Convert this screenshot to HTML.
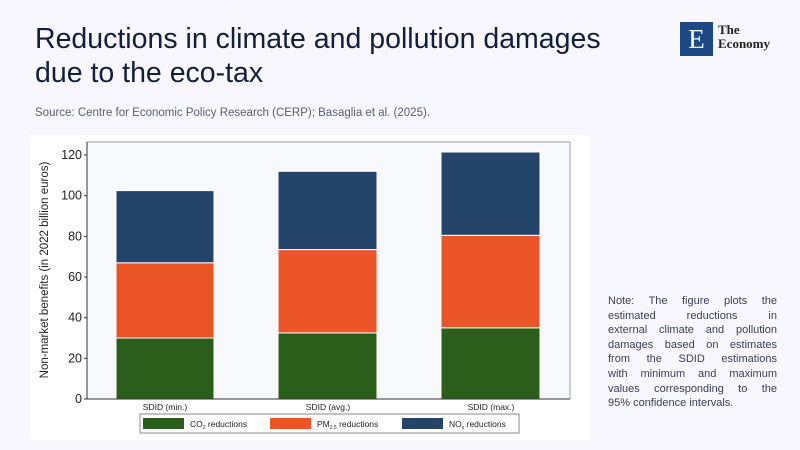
<!DOCTYPE html>
<html><head><meta charset="utf-8"><style>
body{margin:0;width:800px;height:450px;background:#f7f7fd;font-family:"Liberation Sans",sans-serif;overflow:hidden;position:relative}
.t{position:absolute;left:35px;top:22px;font-size:28.5px;line-height:34px;color:#141d3c;font-family:"Liberation Sans",sans-serif}
.s{position:absolute;left:35px;top:107px;font-size:11.5px;color:#5a5f73}
.n{position:absolute;left:608px;top:294px;width:169px;font-size:11px;line-height:14.6px;color:#3a3f55}
.n div{text-align:justify;text-align-last:justify;white-space:nowrap}
.n div:last-child{text-align-last:left}
</style></head><body>
<div class="t">Reductions in climate and pollution damages<br>due to the eco-tax</div>
<div class="s">Source: Centre for Economic Policy Research (CERP); Basaglia et al. (2025).</div>
<div style="position:absolute;left:680px;top:22px;width:33px;height:34px;background:#1d4a86;color:#fff;font-family:'Liberation Serif',serif;font-size:27px;text-align:center;line-height:34px">E</div>
<div style="position:absolute;left:718px;top:23px;font-family:'Liberation Serif',serif;font-size:13px;line-height:14px;color:#222;font-weight:bold">The<br>Economy</div>
<svg style="position:absolute;left:0;top:0" width="800" height="450">
<rect x="30" y="135" width="560" height="305" fill="#ffffff"/>
<rect x="87" y="142" width="483" height="257" fill="#f8f9fd" stroke="#9aa0a8" stroke-width="1"/>
<g stroke="#fff" stroke-width="1">
<rect x="116" y="338" width="98" height="61" fill="#2b5e1a"/>
<rect x="116" y="262.8" width="98" height="75.2" fill="#ea5426"/>
<rect x="116" y="190.6" width="98" height="72.2" fill="#244469"/>
<rect x="278" y="332.9" width="99" height="66.1" fill="#2b5e1a"/>
<rect x="278" y="249.6" width="99" height="83.3" fill="#ea5426"/>
<rect x="278" y="171.3" width="99" height="78.3" fill="#244469"/>
<rect x="441" y="327.8" width="99" height="71.2" fill="#2b5e1a"/>
<rect x="441" y="235.3" width="99" height="92.5" fill="#ea5426"/>
<rect x="441" y="152" width="99" height="83.3" fill="#244469"/>
</g>
<line x1="87" y1="399" x2="570" y2="399" stroke="#333"/>
<line x1="87" y1="142" x2="87" y2="399" stroke="#333"/>
<g font-size="12.5" fill="#222" text-anchor="end">
<text x="82" y="403">0</text><text x="82" y="362.3">20</text><text x="82" y="321.7">40</text><text x="82" y="281">60</text><text x="82" y="240.4">80</text><text x="82" y="199.7">100</text><text x="82" y="159">120</text>
</g>
<g stroke="#333"><line x1="84" y1="399" x2="87" y2="399"/><line x1="84" y1="358.3" x2="87" y2="358.3"/><line x1="84" y1="317.7" x2="87" y2="317.7"/><line x1="84" y1="277" x2="87" y2="277"/><line x1="84" y1="236.4" x2="87" y2="236.4"/><line x1="84" y1="195.7" x2="87" y2="195.7"/><line x1="84" y1="155" x2="87" y2="155"/></g>
<text transform="translate(48,270) rotate(-90)" font-size="11.5" fill="#222" text-anchor="middle">Non-market benefits (in 2022 billion euros)</text>
<g font-size="8.5" fill="#222" text-anchor="middle">
<text x="165" y="410">SDID (min.)</text><text x="328" y="410">SDID (avg.)</text><text x="491" y="410">SDID (max.)</text>
</g>
<rect x="140" y="414" width="379" height="19" fill="#fff" stroke="#888"/>
<rect x="143" y="418" width="41" height="11" fill="#2b5e1a"/>
<rect x="270" y="418" width="41" height="11" fill="#ea5426"/>
<rect x="402" y="418" width="41" height="11" fill="#244469"/>
<g font-size="8.5" fill="#222">
<text x="190" y="427">CO<tspan font-size="5" dy="2">2</tspan><tspan dy="-2"> reductions</tspan></text>
<text x="317" y="427">PM<tspan font-size="5" dy="2">2.5</tspan><tspan dy="-2"> reductions</tspan></text>
<text x="449" y="427">NO<tspan font-size="5" dy="2">x</tspan><tspan dy="-2"> reductions</tspan></text>
</g>
</svg>
<div class="n"><div>Note: The figure plots the</div><div>estimated reductions in</div><div>external climate and pollution</div><div>damages based on estimates</div><div>from the SDID estimations</div><div>with minimum and maximum</div><div>values corresponding to the</div><div>95% confidence intervals.</div></div>
</body></html>
